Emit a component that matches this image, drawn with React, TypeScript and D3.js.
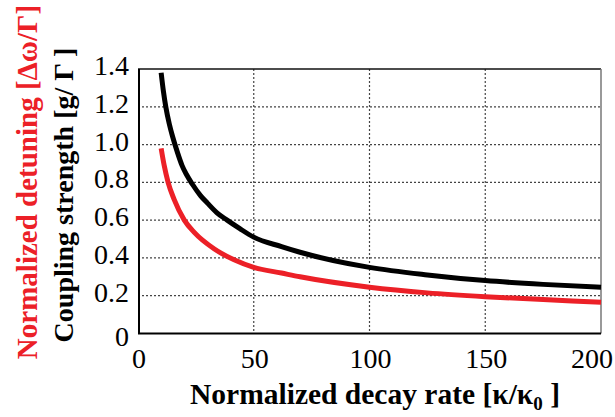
import React, { useEffect, useRef } from 'react';
import * as d3 from 'd3';

// decay rate (kappa/kappa0) samples for each curve
const couplingX = [10, 11, 12, 13.5, 15, 17, 19, 21, 23.5, 27, 30, 34, 38.5, 44, 50, 62, 70, 100, 125, 150, 175, 200];
const couplingY = [1.38, 1.28, 1.2, 1.11, 1.04, 0.96, 0.89, 0.84, 0.79, 0.73, 0.69, 0.64, 0.6, 0.555, 0.51, 0.46, 0.43, 0.35, 0.31, 0.28, 0.26, 0.245];
const detuningX = [10, 11.3, 13, 15.6, 20, 24.3, 33, 41.5, 50, 62, 70, 100, 125, 150, 175, 200];
const detuningY = [0.98, 0.89, 0.8, 0.71, 0.6, 0.535, 0.447, 0.39, 0.35, 0.32, 0.3, 0.245, 0.215, 0.195, 0.18, 0.165];

const xTicks = [0, 50, 100, 150, 200];
const yTicks = [0, 0.2, 0.4, 0.6, 0.8, 1.0, 1.2, 1.4];
const yTickLabels = ['0', '0.2', '0.4', '0.6', '0.8', '1.0', '1.2', '1.4'];

function App() {
    const ref = useRef<SVGSVGElement>(null);

    useEffect(() => {
        const svg = d3.select(ref.current);
        svg.selectAll('*').remove();

        const left = 138, right = 601, top = 69, bottom = 333.5;
        const x = d3.scaleLinear().domain([0, 200]).range([left, right]);
        const y = d3.scaleLinear().domain([0, 1.4]).range([bottom, top]);
        const font = "'Liberation Serif', 'Times New Roman', serif";

        // grid
        svg.selectAll('.vgrid')
            .data(xTicks.filter(d => d > 0 && d < 200))
            .enter().append('line')
            .attr('x1', d => x(d)).attr('x2', d => x(d))
            .attr('y1', top).attr('y2', bottom)
            .attr('stroke', '#444').attr('stroke-width', 1.2)
            .attr('stroke-dasharray', '2,2');
        svg.selectAll('.hgrid')
            .data(yTicks.filter(d => d > 0 && d < 1.4))
            .enter().append('line')
            .attr('x1', left).attr('x2', right)
            .attr('y1', d => y(d)).attr('y2', d => y(d))
            .attr('stroke', '#444').attr('stroke-width', 1.2)
            .attr('stroke-dasharray', '2,2');

        // frame
        svg.append('line').attr('x1', left).attr('x2', right).attr('y1', top).attr('y2', top)
            .attr('stroke', '#111').attr('stroke-width', 1.5);
        svg.append('line').attr('x1', right).attr('x2', right).attr('y1', top).attr('y2', bottom)
            .attr('stroke', '#777').attr('stroke-width', 1.5);
        svg.append('line').attr('x1', left + 1).attr('x2', left + 1).attr('y1', top).attr('y2', bottom)
            .attr('stroke', '#000').attr('stroke-width', 2);
        svg.append('line').attr('x1', left).attr('x2', right).attr('y1', bottom).attr('y2', bottom)
            .attr('stroke', '#000').attr('stroke-width', 2);

        const line = d3.line<[number, number]>()
            .x(d => x(d[0]))
            .y(d => y(d[1]))
            .curve(d3.curveMonotoneX);

        svg.append('path')
            .attr('d', line(detuningX.map((d, i) => [d, detuningY[i]] as [number, number])))
            .attr('fill', 'none').attr('stroke', '#ec2027').attr('stroke-width', 5);
        svg.append('path')
            .attr('d', line(couplingX.map((d, i) => [d, couplingY[i]] as [number, number])))
            .attr('fill', 'none').attr('stroke', '#000').attr('stroke-width', 5);

        // tick labels
        svg.selectAll('.xt')
            .data(xTicks)
            .enter().append('text')
            .attr('x', d => d === 200 ? 613 : x(d) + 1).attr('y', 368)
            .attr('text-anchor', d => d === 200 ? 'end' : 'middle')
            .attr('font-family', font).attr('font-size', 28)
            .text(d => d);
        svg.selectAll('.yt')
            .data(yTicks)
            .enter().append('text')
            .attr('x', 129)
            .attr('y', d => y(d) + (d === 0 ? 12 : 6))
            .attr('text-anchor', 'end')
            .attr('font-family', font).attr('font-size', 28)
            .text((d, i) => yTickLabels[i]);

        // axis titles
        const xt = svg.append('text')
            .attr('x', 375).attr('y', 404)
            .attr('text-anchor', 'middle')
            .attr('font-family', font).attr('font-size', 29.5).attr('font-weight', 'bold');
        xt.append('tspan').text('Normalized decay rate [κ/κ');
        xt.append('tspan').attr('font-size', 19).attr('dy', 6).text('0');
        xt.append('tspan').attr('dy', -6).text(' ]');

        svg.append('text')
            .attr('transform', 'translate(37,182) rotate(-90)')
            .attr('text-anchor', 'middle')
            .attr('font-family', font).attr('font-size', 29).attr('font-weight', 'bold')
            .attr('fill', '#ec2027')
            .text('Normalized detuning [Δω/Γ]');
        svg.append('text')
            .attr('transform', 'translate(73,195) rotate(-90)')
            .attr('text-anchor', 'middle')
            .attr('font-family', font).attr('font-size', 28).attr('font-weight', 'bold')
            .attr('fill', '#000')
            .text('Coupling strength [g/ Γ ]');
    }, []);

    return (
        <svg ref={ref} width={615} height={417}
            style={{ position: 'absolute', left: 0, top: 0, background: '#fff' }}></svg>
    );
}

export default App;
